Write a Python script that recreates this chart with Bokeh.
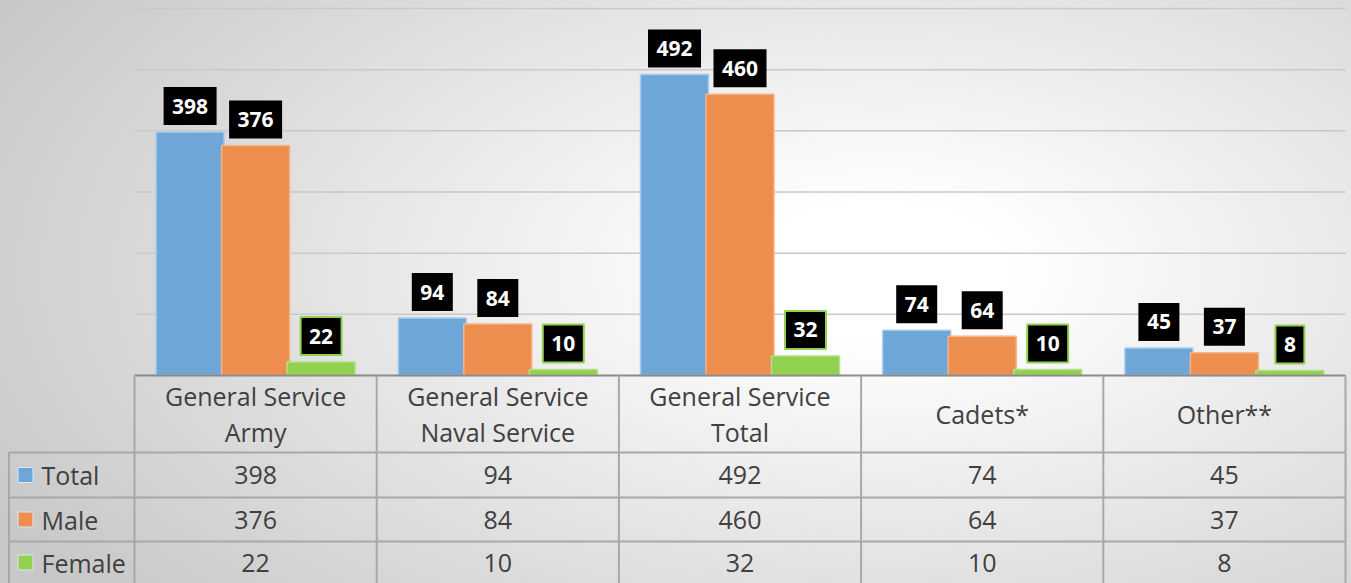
from bokeh.plotting import figure
from bokeh.embed import file_html
from bokeh.resources import INLINE
from bokeh.models import ColumnDataSource, Range1d
from bokeh.transform import dodge
from bokeh.core.properties import value

# ---------------- data ----------------
categories = ["General Service\nArmy", "General Service\nNaval Service",
              "General Service\nTotal", "Cadets*", "Other**"]
series_names = ["Total", "Male", "Female"]
total = [398, 94, 492, 74, 45]
male = [376, 84, 460, 64, 37]
female = [22, 10, 32, 10, 8]
grid_values = [100, 200, 300, 400, 500, 600]

# ---------------- style / layout ----------------
W, H = 1351, 583
X0_PX = 134.0          # px of category boundary 0
COL_PX = 242.2         # px per category column
TOP_PX = 8.0           # px of the 600 gridline
BASE_PX = 375.0        # px of the baseline
YMAX = 600.0
K = YMAX / (BASE_PX - TOP_PX)    # data units per px


def xpx(px):
    return (px - X0_PX) / COL_PX


colors = ["#6fa6d8", "#ed8d4e", "#92d050"]
edge = ["#a9cbec", "#f5b48a", "#b5e08a"]
text_col = "#404040"
table_col = "#a8a8a8"
LEFT = xpx(0)
RIGHT = xpx(W)
LBL_LEFT = xpx(8.5)
OFF = 65.5 / COL_PX
BW = 68.0 / COL_PX

# table row boundaries (px below the baseline)
row_lines_px = [452 - BASE_PX, 497 - BASE_PX, 541 - BASE_PX]
header_center_px = 413.5 - BASE_PX
row_centers_px = [474.5 - BASE_PX, 519 - BASE_PX, 562 - BASE_PX]
YMIN = -(H - BASE_PX) * K
YTOP = YMAX + TOP_PX * K

p = figure(width=W, height=H, output_backend="svg", toolbar_location=None,
           x_range=Range1d(LEFT, RIGHT), y_range=Range1d(YMIN, YTOP),
           min_border=0, min_border_left=0, min_border_right=0,
           min_border_top=0, min_border_bottom=0)
p.axis.visible = False
p.grid.visible = False
p.outline_line_color = None
p.background_fill_alpha = 0
p.border_fill_alpha = 0
p.styles = {"background-image":
            "radial-gradient(ellipse 1000px 520px at 880px 270px, #ffffff 0%, #ffffff 12%, #c8c8c8 100%)"}

xs = [i + 0.5 for i in range(len(categories))]
fields = ["total", "male", "female"]
data = dict(x=xs, cat=categories, total=total, male=male, female=female)
for f in fields:
    vals = data[f]
    data[f + "_s"] = [str(v) for v in vals]
    data[f + "_w"] = [12 * len(str(v)) + 17 for v in vals]
    data[f + "_ly"] = [v + 26 * K for v in vals]
src = ColumnDataSource(data)

# gridlines
p.segment(x0=[0] * len(grid_values), x1=[5] * len(grid_values),
          y0=grid_values, y1=grid_values, line_color="#c9c9c9", line_width=1.5)

# bars
offsets = [-OFF, 0, OFF]
for f, off, c, e in zip(fields, offsets, colors, edge):
    p.vbar(x=dodge("x", off), top=f, width=BW, bottom=0, source=src,
           fill_color=c, line_color=e, line_width=1.5)

# data labels (black boxes)
for f, off in zip(fields, offsets):
    if f == "female":
        lc, lw = "#92d050", 2
    else:
        lc, lw = None, 0
    p.rect(x=dodge("x", off), y=f + "_ly", width=f + "_w", height=38,
           width_units="screen", height_units="screen", source=src,
           fill_color="black", line_color=lc, line_width=lw)
    p.text(x=dodge("x", off), y=f + "_ly", text=f + "_s", source=src,
           text_align="center", text_baseline="middle",
           text_font=value("Open Sans"), text_font_style="bold",
           text_font_size="21px", text_color="white")

# table lines
ys_rows = [-px * K for px in row_lines_px]
p.segment(x0=[0], x1=[5], y0=[0], y1=[0], line_color="#8c8c8c", line_width=2)
p.segment(x0=[LBL_LEFT] * 3, x1=[5] * 3, y0=ys_rows, y1=ys_rows,
          line_color=table_col, line_width=2)
vx = [0, 1, 2, 3, 4, 5]
p.segment(x0=vx, x1=vx, y0=[0] * 6, y1=[YMIN] * 6, line_color=table_col, line_width=2)
p.segment(x0=[LBL_LEFT], x1=[LBL_LEFT], y0=[ys_rows[0]], y1=[YMIN],
          line_color=table_col, line_width=2)

# category headers
p.text(x="x", y=-header_center_px * K, text="cat", source=src,
       text_align="center", text_baseline="middle", text_line_height=1.05,
       text_font=value("Open Sans"), text_font_size="25px", text_color=text_col)

# table rows
for r, (f, name, c) in enumerate(zip(fields, series_names, colors)):
    yc = -row_centers_px[r] * K
    p.text(x="x", y=yc, text=f + "_s", source=src,
           text_align="center", text_baseline="middle",
           text_font=value("Open Sans"), text_font_size="25px", text_color=text_col)
    p.scatter(x=[xpx(25)], y=[yc], marker="square", size=15,
              fill_color=c, line_color="#d8e8f5", line_width=1)
    p.text(x=[xpx(41)], y=[yc], text=[name],
           text_align="left", text_baseline="middle",
           text_font=value("Open Sans"), text_font_size="25px", text_color=text_col)

open("out.html", "w").write(file_html(p, INLINE))
